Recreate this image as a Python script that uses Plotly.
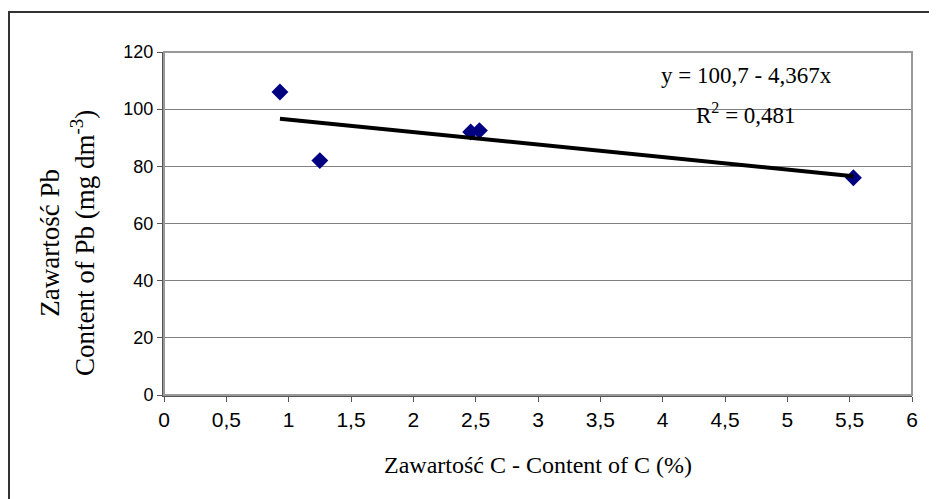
import plotly.graph_objects as go

carbon = [0.93, 1.25, 2.46, 2.53, 5.53]
lead = [106, 82, 92, 92.5, 76]
intercept = 100.7
slope = -4.367
trend_x = [min(carbon), max(carbon)]
trend_y = [intercept + slope * v for v in trend_x]
x_ticks = [0, 0.5, 1, 1.5, 2, 2.5, 3, 3.5, 4, 4.5, 5, 5.5, 6]
x_tick_text = ["0", "0,5", "1", "1,5", "2", "2,5", "3", "3,5", "4", "4,5", "5", "5,5", "6"]
y_ticks = [0, 20, 40, 60, 80, 100, 120]

PL, PT, PW, PH = 164, 52, 748, 343  # plot area in page pixels


def px(x):
    return (x - PL) / PW


def py(y):
    return (PT + PH - y) / PH


fig = go.Figure()
fig.add_trace(go.Scatter(x=carbon, y=lead, mode="markers",
                         marker=dict(symbol="diamond", size=13, color="#000080"),
                         showlegend=False, cliponaxis=False))
fig.add_trace(go.Scatter(x=trend_x, y=trend_y, mode="lines",
                         line=dict(color="black", width=4), showlegend=False))

fig.update_layout(
    width=929, height=491,
    margin=dict(l=PL - 8, r=929 - (PL - 8 + PW), t=PT - 8, b=491 - (PT - 8 + PH)),
    paper_bgcolor="white", plot_bgcolor="white",
    font=dict(family="Liberation Sans", color="black"),
    xaxis=dict(range=[0, 6], tickvals=x_ticks, ticktext=x_tick_text,
               showgrid=False, zeroline=False, showline=True, linecolor="#555555", linewidth=2,
               ticks="outside", ticklen=5, tickcolor="#555555",
               tickfont=dict(family="Liberation Sans Narrow, Liberation Sans", size=21)),
    yaxis=dict(range=[0, 120], tickvals=y_ticks,
               showgrid=True, gridcolor="#808080", gridwidth=1, zeroline=False,
               showline=True, linecolor="#555555", linewidth=2,
               ticks="outside", ticklen=5, tickcolor="#555555",
               tickfont=dict(family="Liberation Sans", size=18)),
    shapes=[
        dict(type="rect", xref="paper", yref="paper", x0=0, x1=1, y0=0, y1=1,
             line=dict(color="#999999", width=2), layer="above"),
        dict(type="rect", xref="paper", yref="paper",
             x0=px(9), x1=px(960), y0=py(520), y1=py(12),
             line=dict(color="#333333", width=2)),
    ],
    annotations=[
        dict(text="y = 100,7 - 4,367x", xref="paper", yref="paper",
             x=px(746), y=py(75), xanchor="center", yanchor="middle", showarrow=False,
             font=dict(family="Liberation Serif", size=23)),
        dict(text="R<sup>2</sup> = 0,481", xref="paper", yref="paper",
             x=px(746), y=py(113), xanchor="center", yanchor="middle", showarrow=False,
             font=dict(family="Liberation Serif", size=23)),
        dict(text="Zawartość C - Content of C (%)", xref="paper", yref="paper",
             x=px(538), y=py(465), xanchor="center", yanchor="middle", showarrow=False,
             font=dict(family="Liberation Serif", size=24)),
        dict(text="Zawartość Pb<br>Content of Pb (mg dm<sup>-3</sup>)", xref="paper", yref="paper",
             x=px(68), y=py(243), xanchor="center", yanchor="middle", showarrow=False, textangle=-90,
             font=dict(family="Liberation Serif", size=27)),
    ],
)

fig.write_html("out.html")
